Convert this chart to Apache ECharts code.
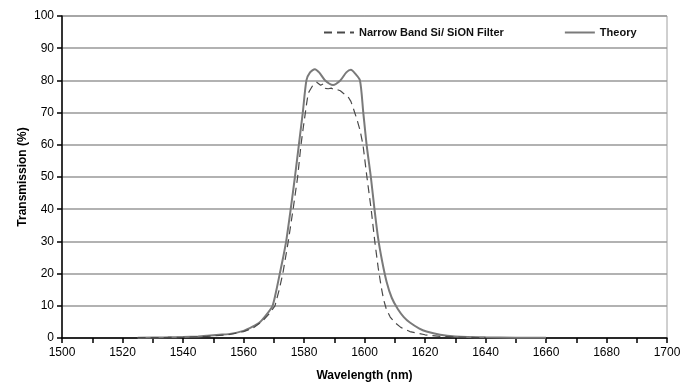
<!DOCTYPE html>
<html>
<head>
<meta charset="utf-8">
<script src="https://cdn.jsdelivr.net/npm/echarts@6/dist/echarts.min.js"></script>
<style>
  html, body { margin: 0; padding: 0; background: #fff; }
  #chart { width: 686px; height: 388px; }
</style>
</head>
<body>
<div id="chart"></div>
<script>
	'use strict';

	/* measured filter (dashed) */
	var filterWl = [1525, 1540, 1548, 1555, 1560, 1563, 1566, 1568.5, 1570.4, 1571.8, 1573, 1574.8, 1576.4, 1577.9, 1579, 1579.8, 1580.9, 1581.4, 1582, 1583, 1584.2, 1584.7, 1585.5, 1586.3, 1587, 1588, 1589, 1590, 1590.8, 1592, 1593, 1594.5, 1595.5, 1596.3, 1597.4, 1598.5, 1599.5, 1600.8, 1602.2, 1603.4, 1604.5, 1605.5, 1606.3, 1607.2, 1608.5, 1610, 1612, 1615, 1620, 1625, 1630, 1640];
	var filterT = [0.1, 0.2, 0.5, 1, 2, 3, 5, 7.5, 10, 15, 20, 30, 40, 50, 60, 65.6, 73, 76, 77, 78.6, 79.4, 79.6, 78.5, 78.9, 77.5, 77.4, 77.6, 77.1, 77.2, 76.8, 76, 75, 73.5, 71.3, 68.2, 64.6, 60, 50, 40, 30, 22, 16, 12, 9, 6.5, 4.8, 3.3, 2, 1, 0.5, 0.3, 0.1];

	/* theory (solid) */
	var theoryWl = [1525, 1535, 1540, 1545, 1548, 1552, 1555, 1560, 1563, 1565.5, 1567.8, 1569.6, 1570.9, 1572, 1573.1, 1574.1, 1575.6, 1577, 1578.3, 1579.6, 1580.8, 1582, 1583.6, 1585, 1587, 1589.6, 1592, 1594, 1595.5, 1597, 1598.5, 1599.6, 1600.7, 1602.1, 1603.3, 1604.5, 1605.8, 1607.3, 1609, 1611, 1613, 1615, 1618, 1620.5, 1625, 1630, 1640, 1650, 1660];
	var theoryT = [0.1, 0.2, 0.3, 0.5, 0.7, 1, 1.2, 2.2, 3.5, 5, 7.5, 10, 15, 20, 25, 30, 40, 50, 60, 70, 80, 82.5, 83.5, 82.5, 80, 78.6, 80, 82.5, 83.3, 82, 80, 70, 60, 50, 40, 31, 24, 17.5, 12.5, 9, 6.5, 4.8, 3, 2, 1, 0.5, 0.2, 0.1, 0.05];

	var yTicks = [0, 10, 20, 30, 40, 50, 60, 70, 80, 90, 100];

	function pairs(xs, ys) {
		return xs.map(function (x, i) { return [x, ys[i]]; });
	}

	var chart = echarts.init(document.getElementById('chart'));

	var option = {
		animation: false,
		grid: {
			left: 62,
			right: 19,
			top: 16,
			bottom: 50,
			show: true,
			borderColor: '#a0a0a0',
			borderWidth: 1
		},
		legend: {
			top: 22,
			left: 318,
			itemGap: 60,
			itemWidth: 30,
			itemHeight: 10,
			itemStyle: { opacity: 0 },
			textStyle: {
				fontFamily: 'Liberation Sans',
				fontSize: 11,
				fontWeight: 'bold',
				color: '#111'
			},
			data: ['Narrow Band Si/ SiON Filter', 'Theory']
		},
		xAxis: {
			type: 'value',
			min: 1500,
			max: 1700,
			interval: 10,
			name: 'Wavelength (nm)',
			nameLocation: 'middle',
			nameGap: 32,
			nameTextStyle: {
				fontFamily: 'Liberation Sans',
				fontSize: 12,
				fontWeight: 'bold',
				color: '#000'
			},
			axisLine: { lineStyle: { color: '#000', width: 1.5 } },
			axisTick: { show: true, length: 5, lineStyle: { color: '#000', width: 1.5 } },
			splitLine: { show: false },
			axisLabel: {
				fontFamily: 'Liberation Sans',
				fontSize: 12,
				color: '#000',
				margin: 9,
				formatter: function (v) { return v % 20 === 0 ? String(v) : ''; }
			}
		},
		yAxis: {
			type: 'value',
			min: 0,
			max: 100,
			interval: 10,
			name: 'Transmission (%)',
			nameLocation: 'middle',
			nameGap: 33,
			nameMoveOverlap: false,
			nameTextStyle: {
				fontFamily: 'Liberation Sans',
				fontSize: 12,
				fontWeight: 'bold',
				color: '#000'
			},
			axisLine: { show: true, lineStyle: { color: '#000', width: 1.5 } },
			axisTick: { show: true, length: 5, lineStyle: { color: '#000', width: 1.5 } },
			splitLine: { show: true, lineStyle: { color: '#999', width: 1.5 } },
			axisLabel: {
				fontFamily: 'Liberation Sans',
				fontSize: 12,
				color: '#000',
				margin: 8,
				formatter: function (v) { return yTicks.indexOf(v) >= 0 ? String(v) : ''; }
			}
		},
		series: [
			{
				name: 'Narrow Band Si/ SiON Filter',
				type: 'line',
				symbol: 'none',
				data: pairs(filterWl, filterT),
				lineStyle: { color: '#4a4a4a', width: 1.2, type: [8, 5] },
				itemStyle: { color: '#4a4a4a' },
				z: 3
			},
			{
				name: 'Theory',
				type: 'line',
				symbol: 'none',
				smooth: 0.25,
				data: pairs(theoryWl, theoryT),
				lineStyle: { color: '#7a7a7a', width: 2 },
				itemStyle: { color: '#7a7a7a' },
				z: 2
			}
		]
	};
	chart.setOption(option);
</script>
</body>
</html>
